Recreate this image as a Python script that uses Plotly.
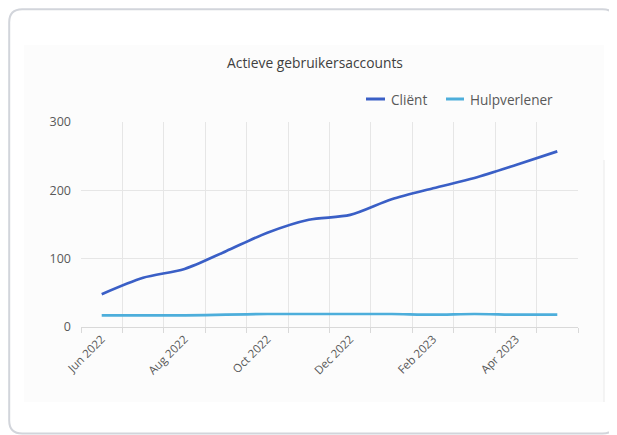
import plotly.graph_objects as go

W, H = 617, 435

months = ["Jun 2022", "Jul 2022", "Aug 2022", "Sep 2022", "Oct 2022", "Nov 2022",
          "Dec 2022", "Jan 2023", "Feb 2023", "Mar 2023", "Apr 2023", "May 2023"]
client = [48, 72, 85, 111, 138, 157, 164, 187, 203, 218, 237, 257]
hulpverlener = [17, 17, 17, 18, 19, 19, 19, 19, 18, 19, 18, 18]
series_names = ["Cliënt", "Hulpverlener"]
series_colors = ["#3A5FC6", "#4DAEDB"]
y_ticks = [0, 100, 200, 300]

x_idx = list(range(len(months)))
label_idx = x_idx[::2]
label_txt = months[::2]

# map a target picture pixel to paper fractions (page body has an 8px offset)
OX, OY, SX, SY = 8.0, 8.0, 1.0, 1.0


def fx(X):
    return (X - OX) / SX / W


def fy(Y):
    return 1 - (Y - OY) / SY / H


fig = go.Figure()
for name, vals, col in zip(series_names, [client, hulpverlener], series_colors):
    fig.add_trace(go.Scatter(x=x_idx, y=vals, name=name, mode="lines", showlegend=False,
                             line=dict(color=col, width=2.7, shape="spline", smoothing=0.8)))

# card outline (rounded)
L, T, R, B, r = max(fx(5.5), 1.2 / W), min(fy(7.5), 1 - 1.2 / H), fx(615.5), fy(433.5), 13
rx, ry = r / W, r / H
path = (f"M {L},{T - ry} Q {L},{T} {L + rx},{T} "
        f"L {R - rx},{T} Q {R},{T} {R},{T - ry} "
        f"L {R},{B + ry} Q {R},{B} {R - rx},{B} "
        f"L {L + rx},{B} Q {L},{B} {L},{B + ry} Z")
shapes = [
    dict(type="rect", xref="paper", yref="paper", x0=fx(24), x1=fx(604), y0=fy(402), y1=fy(45),
         fillcolor="#fcfcfc", line=dict(width=0), layer="below"),
    dict(type="line", xref="paper", yref="paper", x0=fx(604), x1=fx(604), y0=fy(402), y1=fy(160),
         line=dict(color="#ededed", width=1.2), layer="below"),
    dict(type="path", xref="paper", yref="paper", path=path,
         line=dict(color="#d2d5db", width=2), fillcolor="rgba(0,0,0,0)", layer="above"),
]

# legend (drawn as line keys + text)
annotations = []
leg_y = fy(99)
for (x0, x1, tx), name, col in zip([(366, 385, 389), (446, 464, 468)], series_names, series_colors):
    shapes.append(dict(type="line", xref="paper", yref="paper", x0=fx(x0), x1=fx(x1),
                       y0=leg_y, y1=leg_y, line=dict(color=col, width=3)))
    annotations.append(dict(text=name, xref="paper", yref="paper", x=fx(tx), y=leg_y,
                            xanchor="left", yanchor="middle", showarrow=False,
                            font=dict(size=13.6, color="#595959")))

fig.update_layout(
    width=W, height=H,
    margin=dict(l=0, r=0, t=0, b=0),
    paper_bgcolor="#ffffff",
    plot_bgcolor="rgba(0,0,0,0)",
    font=dict(family="Open Sans", color="#595959", size=12),
    title=dict(text="Actieve gebruikersaccounts", x=fx(315), y=fy(63),
               xanchor="center", yanchor="middle", font=dict(size=13.8, color="#404040")),
    showlegend=False,
    shapes=shapes,
    annotations=annotations,
    xaxis=dict(domain=[fx(81), fx(578)], range=[-0.5, len(months) - 0.5], automargin=False,
               tickmode="array", tickvals=label_idx, ticktext=label_txt,
               tickangle=-45, showgrid=False, zeroline=False, ticks="",
               showline=True, linecolor="#d9d9d9", linewidth=1,
               tickfont=dict(size=11.5, color="#595959"),
               minor=dict(tick0=-0.5, dtick=1, showgrid=True, gridcolor="#e6e6e6",
                          gridwidth=1, ticks="outside", ticklen=5, tickcolor="#d9d9d9")),
    yaxis=dict(domain=[fy(327), fy(122)], range=[0, 300], tickmode="array", tickvals=y_ticks,
               automargin=False, showgrid=True, gridcolor="#e6e6e6", gridwidth=1, zeroline=False,
               showline=False, ticks="", ticklabelstandoff=9,
               tickfont=dict(size=12.5, color="#595959")),
)

fig.write_html("out.html")
